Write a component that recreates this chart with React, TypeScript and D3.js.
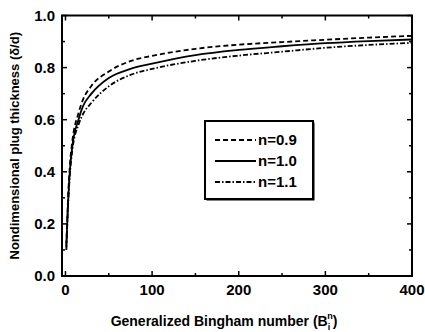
import React, { useEffect, useRef } from 'react'
import * as d3 from 'd3'

// Generalized Bingham number
const bingham = [1, 2, 3, 5, 8, 15, 20, 30, 50, 75, 100, 150, 200, 250, 300, 350, 400]

// plug thickness for each power-law index
const n09 = [0.12, 0.21, 0.3, 0.42, 0.52, 0.625, 0.675, 0.73, 0.785, 0.825, 0.845, 0.872, 0.888, 0.898, 0.907, 0.915, 0.922]
const n10 = [0.11, 0.2, 0.28, 0.4, 0.5, 0.6, 0.65, 0.7, 0.76, 0.795, 0.815, 0.848, 0.868, 0.882, 0.894, 0.902, 0.908]
const n11 = [0.1, 0.19, 0.27, 0.385, 0.485, 0.58, 0.62, 0.665, 0.728, 0.772, 0.795, 0.826, 0.846, 0.861, 0.876, 0.887, 0.895]

const seriesNames = ['n=0.9', 'n=1.0', 'n=1.1']
const seriesDash = ['5,3', null, '5,2,1.5,2']

const xTicks = [0, 100, 200, 300, 400]
const yTicks = [0, 0.2, 0.4, 0.6, 0.8, 1.0]

const App = () => {
  const ref = useRef(null)

  useEffect(() => {
    const width = 425
    const height = 332
    const left = 62
    const right = 412
    const top = 15.5
    const bottom = 276
    const font = '"Liberation Sans", Arial, sans-serif'

    const svg = d3.select(ref.current)
    svg.selectAll('*').remove()
    svg.attr('width', width).attr('height', height)

    const x = d3.scaleLinear().domain([-4, 400]).range([left, right])
    const y = d3.scaleLinear().domain([0, 1]).range([bottom, top])

    const minorX = d3.range(0, 401, 50)
    const minorY = d3.range(0, 1.01, 0.1)

    const ticks = svg.append('g').attr('stroke', '#000').attr('stroke-width', 1.5)
    minorX.forEach((v) => {
      const len = v % 100 === 0 ? 5 : 3
      ticks.append('line').attr('x1', x(v)).attr('x2', x(v)).attr('y1', bottom).attr('y2', bottom - len)
      ticks.append('line').attr('x1', x(v)).attr('x2', x(v)).attr('y1', top).attr('y2', top + len)
    })
    minorY.forEach((v, i) => {
      const len = i % 2 === 0 ? 5 : 3
      ticks.append('line').attr('x1', left).attr('x2', left + len).attr('y1', y(v)).attr('y2', y(v))
      ticks.append('line').attr('x1', right).attr('x2', right - len).attr('y1', y(v)).attr('y2', y(v))
    })

    svg
      .append('rect')
      .attr('x', left)
      .attr('y', top)
      .attr('width', right - left)
      .attr('height', bottom - top)
      .attr('fill', 'none')
      .attr('stroke', '#000')
      .attr('stroke-width', 2)

    svg
      .append('g')
      .selectAll('text')
      .data(xTicks)
      .enter()
      .append('text')
      .attr('x', (d) => x(d))
      .attr('y', 295)
      .attr('text-anchor', 'middle')
      .attr('font-family', font)
      .attr('font-weight', 'bold')
      .attr('font-size', 15)
      .text((d) => d)

    svg
      .append('g')
      .selectAll('text')
      .data(yTicks)
      .enter()
      .append('text')
      .attr('x', 55)
      .attr('y', (d) => y(d) + 5)
      .attr('text-anchor', 'end')
      .attr('font-family', font)
      .attr('font-weight', 'bold')
      .attr('font-size', 15)
      .text((d) => d.toFixed(1))

    const line = d3
      .line()
      .x((d) => x(d[0]))
      .y((d) => y(d[1]))
      .curve(d3.curveMonotoneX)

    const series = [n09, n10, n11]
    series.forEach((vals, i) => {
      svg
        .append('path')
        .attr('d', line(bingham.map((b, j) => [b, vals[j]])))
        .attr('fill', 'none')
        .attr('stroke', '#000')
        .attr('stroke-width', 1.8)
        .attr('stroke-dasharray', seriesDash[i])
    })

    // legend, slight shadow on right and bottom
    const lg = svg.append('g')
    lg.append('rect')
      .attr('x', 206.5)
      .attr('y', 122.5)
      .attr('width', 108)
      .attr('height', 78)
      .attr('fill', '#000')
    lg.append('rect')
      .attr('x', 205)
      .attr('y', 121)
      .attr('width', 108)
      .attr('height', 78)
      .attr('fill', '#fff')
      .attr('stroke', '#000')
      .attr('stroke-width', 2)
    seriesNames.forEach((name, i) => {
      const ly = 140 + i * 21
      lg.append('line')
        .attr('x1', 215)
        .attr('x2', 256)
        .attr('y1', ly)
        .attr('y2', ly)
        .attr('stroke', '#000')
        .attr('stroke-width', 1.8)
        .attr('stroke-dasharray', seriesDash[i])
      lg.append('text')
        .attr('x', 258)
        .attr('y', ly + 5)
        .attr('font-family', font)
        .attr('font-weight', 'bold')
        .attr('font-size', 15)
        .text(name)
    })

    // axis titles
    const xt = svg
      .append('text')
      .attr('x', 224)
      .attr('y', 326)
      .attr('text-anchor', 'middle')
      .attr('font-family', font)
      .attr('font-weight', 'bold')
      .attr('font-size', 14)
    xt.append('tspan').text('Generalized Bingham number (B')
    xt.append('tspan').attr('font-size', 9).attr('dy', 4).text('i')
    xt.append('tspan').attr('font-size', 9).attr('dx', -3).attr('dy', -11).text('n')
    xt.append('tspan').attr('dy', 7).text(')')

    svg
      .append('text')
      .attr('transform', `translate(19, ${(top + bottom) / 2}) rotate(-90)`)
      .attr('text-anchor', 'middle')
      .attr('font-family', font)
      .attr('font-weight', 'bold')
      .attr('font-size', 13)
      .text('Nondimensional plug thickness (δ/d)')
  }, [])

  return (
    <svg ref={ref} style={{ position: 'absolute', left: 0, top: 0, background: '#fff' }}></svg>
  )
}

export default App
